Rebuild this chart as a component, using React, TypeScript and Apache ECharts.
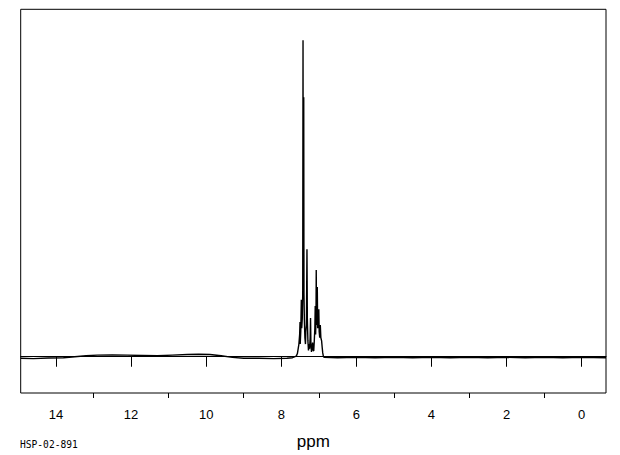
import React, { useEffect, useRef } from "react";
import * as echarts from "echarts";

// Chemical shift (ppm) and relative intensity pairs
const baselineLeft: [number, number][] = [
  [14.94, -0.5], [14.6, -0.6], [14.2, -0.4], [13.8, -0.3], [13.5, 0.0], [13.2, 0.3],
  [12.9, 0.5], [12.5, 0.6], [12.1, 0.5], [11.7, 0.4], [11.3, 0.3], [10.9, 0.5],
  [10.5, 0.7], [10.2, 0.8], [9.9, 0.7], [9.6, 0.3], [9.3, -0.2], [9.0, -0.5],
  [8.6, -0.5], [8.2, -0.6], [7.85, -0.5], [7.7, -0.3],
];

const peakRegion: [number, number][] = [
  [7.6, 0.2], [7.57, 1.0], [7.55, 2.5], [7.53, 4], [7.51, 7], [7.5, 11], [7.495, 4],
  [7.48, 8], [7.465, 18], [7.455, 9], [7.44, 12], [7.428, 20], [7.42, 100], [7.414, 30],
  [7.407, 40], [7.401, 82], [7.395, 20], [7.385, 12], [7.37, 6], [7.355, 4], [7.345, 8],
  [7.33, 10], [7.315, 34], [7.305, 12], [7.29, 5], [7.275, 2], [7.26, 4], [7.245, 2.5],
  [7.23, 6], [7.22, 12.2], [7.21, 4], [7.195, 1.5], [7.18, 3], [7.165, 4.5], [7.15, 2],
  [7.135, 1.8], [7.12, 5], [7.105, 9], [7.095, 16], [7.085, 7], [7.075, 12], [7.068, 27.4],
  [7.06, 10], [7.05, 14], [7.04, 22], [7.03, 9], [7.015, 11], [7.0, 15], [6.99, 8],
  [6.975, 6], [6.96, 10], [6.945, 6], [6.925, 5], [6.91, 3], [6.895, 1.2], [6.88, 0.3],
  [6.86, -0.2],
];

const baselineRight: [number, number][] = [
  [6.5, -0.3], [6.0, -0.2], [5.5, -0.3], [5.0, -0.2], [4.5, -0.3], [4.0, -0.2],
  [3.5, -0.3], [3.0, -0.2], [2.5, -0.3], [2.0, -0.2], [1.5, -0.3], [1.0, -0.2],
  [0.5, -0.3], [0.0, -0.2], [-0.65, -0.3],
];

const majorTicks = [0, 2, 4, 6, 8, 10, 12, 14];
const minorTicks = [1, 3, 5, 7, 9, 11, 13];
const xMin = -0.65;
const xMax = 14.94;
const yMin = -11.46;
const yMax = 109.8;
const axisName = "ppm";
const sampleId = "HSP-02-891";

export default function App() {
  const ref = useRef<HTMLDivElement>(null);
  useEffect(() => {
    if (!ref.current) return;
    const chart = echarts.init(ref.current, undefined, { renderer: "svg" });
    const spectrum = [...baselineLeft, ...peakRegion, ...baselineRight];
    chart.setOption({
      animation: false,
      backgroundColor: "#fff",
      grid: {
        left: 20.7,
        right: 14,
        top: 9.3,
        bottom: 62,
        show: true,
        borderColor: "#000",
        borderWidth: 1,
        containLabel: false,
      },
      xAxis: [
        {
          type: "value",
          min: xMin,
          max: xMax,
          inverse: true,
          position: "bottom",
          splitLine: { show: false },
          axisLine: { show: true, lineStyle: { color: "#000", width: 1 } },
          axisTick: {
            show: true,
            length: 10,
            customValues: majorTicks,
            lineStyle: { color: "#000", width: 1 },
          },
          axisLabel: {
            show: true,
            customValues: majorTicks,
            margin: 15,
            color: "#000",
            fontFamily: "Liberation Sans",
            fontSize: 13,
          },
          name: axisName,
          nameLocation: "middle",
          nameGap: 40,
          nameTextStyle: { color: "#000", fontFamily: "Liberation Sans", fontSize: 17 },
        },
        {
          type: "value",
          min: xMin,
          max: xMax,
          inverse: true,
          position: "bottom",
          splitLine: { show: false },
          axisLine: { show: false },
          axisTick: {
            show: true,
            length: 5,
            customValues: minorTicks,
            lineStyle: { color: "#000", width: 1 },
          },
          axisLabel: { show: false },
        },
      ],
      yAxis: {
        type: "value",
        min: yMin,
        max: yMax,
        show: false,
        splitLine: { show: false },
      },
      graphic: [
        {
          type: "text",
          left: 20,
          top: 439,
          style: {
            text: sampleId,
            fill: "#000",
            font: "9.6px 'DejaVu Sans Mono'",
          },
        },
      ],
      series: [
        {
          type: "line",
          xAxisIndex: 0,
          data: spectrum,
          showSymbol: false,
          symbol: "none",
          lineStyle: { color: "#000", width: 1.4 },
          clip: true,
        },
      ],
    });
    return () => chart.dispose();
  }, []);
  return (
    <div
      ref={ref}
      style={{ position: "fixed", left: 0, top: 0, width: 620, height: 455 }}
    />
  );
}
